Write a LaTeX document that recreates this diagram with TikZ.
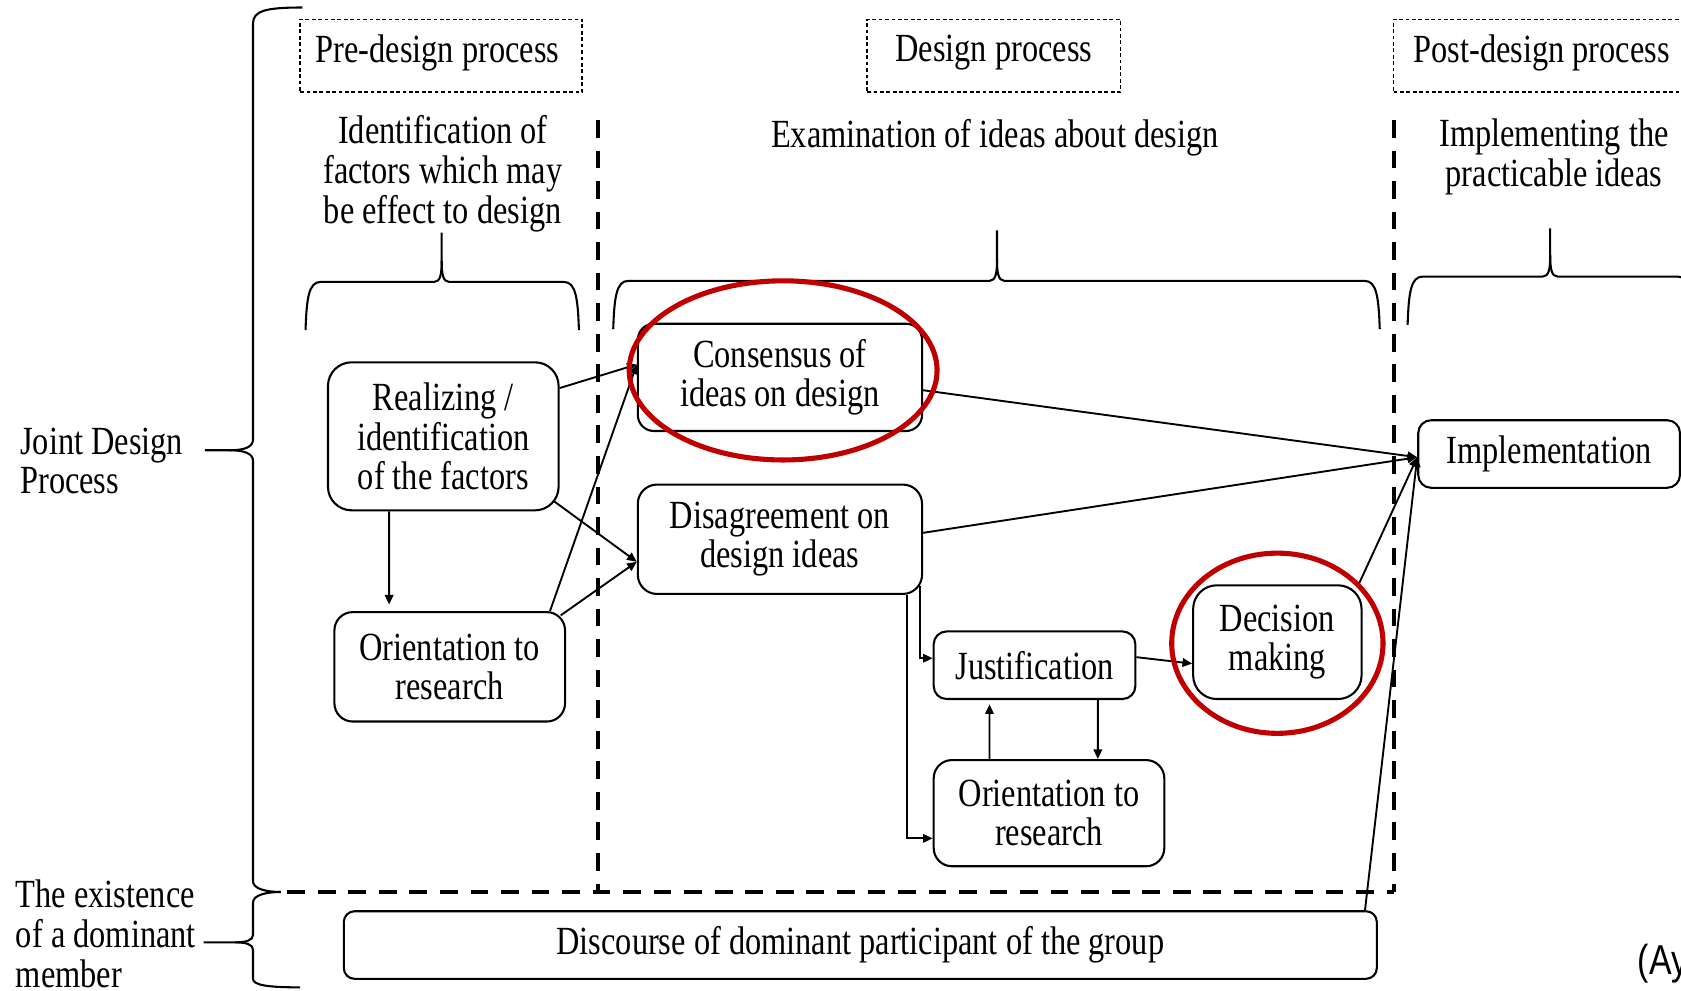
\documentclass[tikz,border=0pt]{standalone}
\usepackage{fontspec}
\setmainfont[FakeStretch=0.81]{Liberation Serif}
\newfontfamily\sansfont[FakeStretch=0.81]{Liberation Sans}
\usetikzlibrary{arrows.meta}
\definecolor{ringred}{RGB}{192,0,0}

\begin{document}
\begin{tikzpicture}[x=0.01cm,y=-0.01cm,line width=0.5pt,>={Triangle[length=0.09cm,width=0.08cm]},
  every node/.style={font=\fontsize{10.6}{10.5}\selectfont,inner sep=0pt,align=center},
  proc/.style={draw,line width=0.55pt,rounded corners=#1},
  proc/.default=0.15cm,
  phasebox/.style={draw,line width=0.4pt,dash pattern=on 1pt off 0.7pt,minimum height=0.68cm},
  bigdash/.style={line width=1.1pt,dash pattern=on 4.7pt off 3.4pt},
  brace/.style={line width=0.55pt},
  ring/.style={draw=ringred,line width=1.35pt}]
\useasboundingbox (0,0) rectangle (1568,924);
% ================= phase headings =================
\node[phasebox,minimum width=2.63cm] (preF) at (411.5,52) {};
\node[phasebox,minimum width=2.36cm] (desF) at (927,52) {};
\node[phasebox,minimum width=2.90cm] (postF) at (1445,52) {};
\node (preT) at (408,49) {Pre-design process};
\node (desT) at (927,49) {Design process};
\node (postT) at (1438,49) {Post-design process};
\node (idf) at (413,162) {Identification of\\factors which may\\be effect to design};
\node (exam) at (928,128.5) {Examination of ideas about design};
\node (impT) at (1449.5,146.5) {Implementing the\\practicable ideas};
% group braces: left end / tip / right end / bar height / tip top
\foreach \xa/\xt/\xb/\yh/\ytop in {285/412/540/263/217, 572/930/1287/262/215, 1313/1446/1579/258/213}{
  \draw[brace] (\xa,\yh+45) .. controls (\xa+1,\yh+15) and (\xa+3,\yh) .. (\xa+14,\yh)
    -- (\xt-7,\yh) .. controls (\xt-1,\yh) and (\xt,\yh-8) .. (\xt,\yh-20) -- (\xt,\ytop);
  \draw[brace] (\xt,\yh-20) .. controls (\xt,\yh-8) and (\xt+1,\yh) .. (\xt+7,\yh)
    -- (\xb-14,\yh) .. controls (\xb-3,\yh) and (\xb-1,\yh+15) .. (\xb,\yh+45);
}
% ================= side braces =================
\node[anchor=west,align=left] (joint) at (18,430) {Joint Design\\Process};
\node[anchor=west,align=left] (domi) at (14,871) {The existence\\of a dominant\\member};
\draw[brace] (282,7) .. controls (248,7) and (236,10) .. (236,22) -- (236,410)
  .. controls (236,417) and (228,420) .. (214,420) -- (191,420);
\draw[brace] (214,420) .. controls (228,420) and (236,423) .. (236,430) -- (236,822)
  .. controls (236,829) and (248,832) .. (262,832);
\draw[brace] (262,832) .. controls (248,832) and (236,835) .. (236,842) -- (236,872)
  .. controls (236,877) and (230,879) .. (219,879) -- (190,879);
\draw[brace] (219,879) .. controls (230,879) and (236,881) .. (236,886) -- (236,913)
  .. controls (236,919) and (250,921) .. (280,921);
% ================= dashed stage borders =================
\draw[bigdash] (558,112) -- (558,832);
\draw[bigdash] (1300,112) -- (1300,832);
\draw[bigdash] (268,832) -- (1300,832);
% ================= boxes =================
\node[proc=0.22cm,minimum width=2.15cm,minimum height=1.38cm] (real) at (413.5,407) {Realizing /\\identification\\of the factors};
\node[proc=0.17cm,minimum width=2.15cm,minimum height=1.02cm] (ori1) at (419.5,622) {Orientation to\\research};
\node[proc,minimum width=2.65cm,minimum height=1.00cm] (cons) at (727.5,352) {Consensus of\\ideas on design};
\node[proc=0.18cm,minimum width=2.65cm,minimum height=1.02cm] (dis) at (727.5,503) {Disagreement on\\design ideas};
\node[proc=0.12cm,minimum width=1.88cm,minimum height=0.63cm] (just) at (965,620.5) {Justification};
\node[proc=0.22cm,minimum width=1.57cm,minimum height=1.06cm] (dec) at (1191.5,599) {Decision\\making};
\node[proc=0.17cm,minimum width=2.15cm,minimum height=0.99cm] (ori2) at (978.5,758.5) {Orientation to\\research};
\node[proc=0.12cm,minimum width=2.44cm,minimum height=0.63cm] (impl) at (1445,423.5) {Implementation};
\node[proc=0.1cm,minimum width=9.63cm,minimum height=0.63cm] (disc) at (802.5,881.5) {Discourse of dominant participant of the group};
% ================= connectors =================
\draw[->,shorten >=0.06cm] ([xshift=-0.505cm]real.south) -- ([xshift=-0.565cm]ori1.north);
\draw[->] ([yshift=0.45cm]real.east) -- ([yshift=0.12cm]cons.west);
\draw[->] ([xshift=-0.06cm,yshift=0.1cm]real.south east) -- ([yshift=-0.21cm]dis.west);
\draw[->] ([xshift=-0.15cm]ori1.north east) -- ([yshift=0.12cm]cons.west);
\draw[->] ([xshift=-0.05cm,yshift=-0.04cm]ori1.north east) -- ([yshift=-0.21cm]dis.west);
\draw[->] ([yshift=-0.12cm]cons.east) -- ([yshift=-0.03cm]impl.west);
\draw[->] ([yshift=0.06cm]dis.east) -- ([yshift=-0.03cm]impl.west);
\draw[->] ([xshift=-0.03cm,yshift=0.08cm]dis.south east) |- ([yshift=0.065cm]just.west);
\draw[->] ([xshift=-0.15cm]dis.south east) |- ([yshift=-0.235cm]ori2.west);
\draw[->] ([yshift=0.075cm]just.east) -- ([yshift=-0.2cm]dec.west);
\draw[->] ([xshift=0.59cm]just.south) -- ([xshift=0.455cm]ori2.north);
\draw[->,shorten >=0.04cm] ([xshift=-0.555cm]ori2.north) -- ([xshift=-0.42cm]just.south);
\draw[->] ([xshift=-0.05cm,yshift=-0.03cm]dec.north east) -- ([yshift=-0.03cm]impl.west);
\draw[->] ([xshift=-0.12cm]disc.north east) -- ([yshift=-0.03cm]impl.west);
% ================= highlight rings =================
\draw[ring] (730.5,345.5) ellipse (1.435cm and 0.835cm);
\draw[ring] (1191.5,600) ellipse (0.985cm and 0.84cm);
\node[font=\sansfont\fontsize{11.1}{13}\selectfont,anchor=base west] (ay) at (1527,909) {(Ay};
\end{tikzpicture}
\end{document}
